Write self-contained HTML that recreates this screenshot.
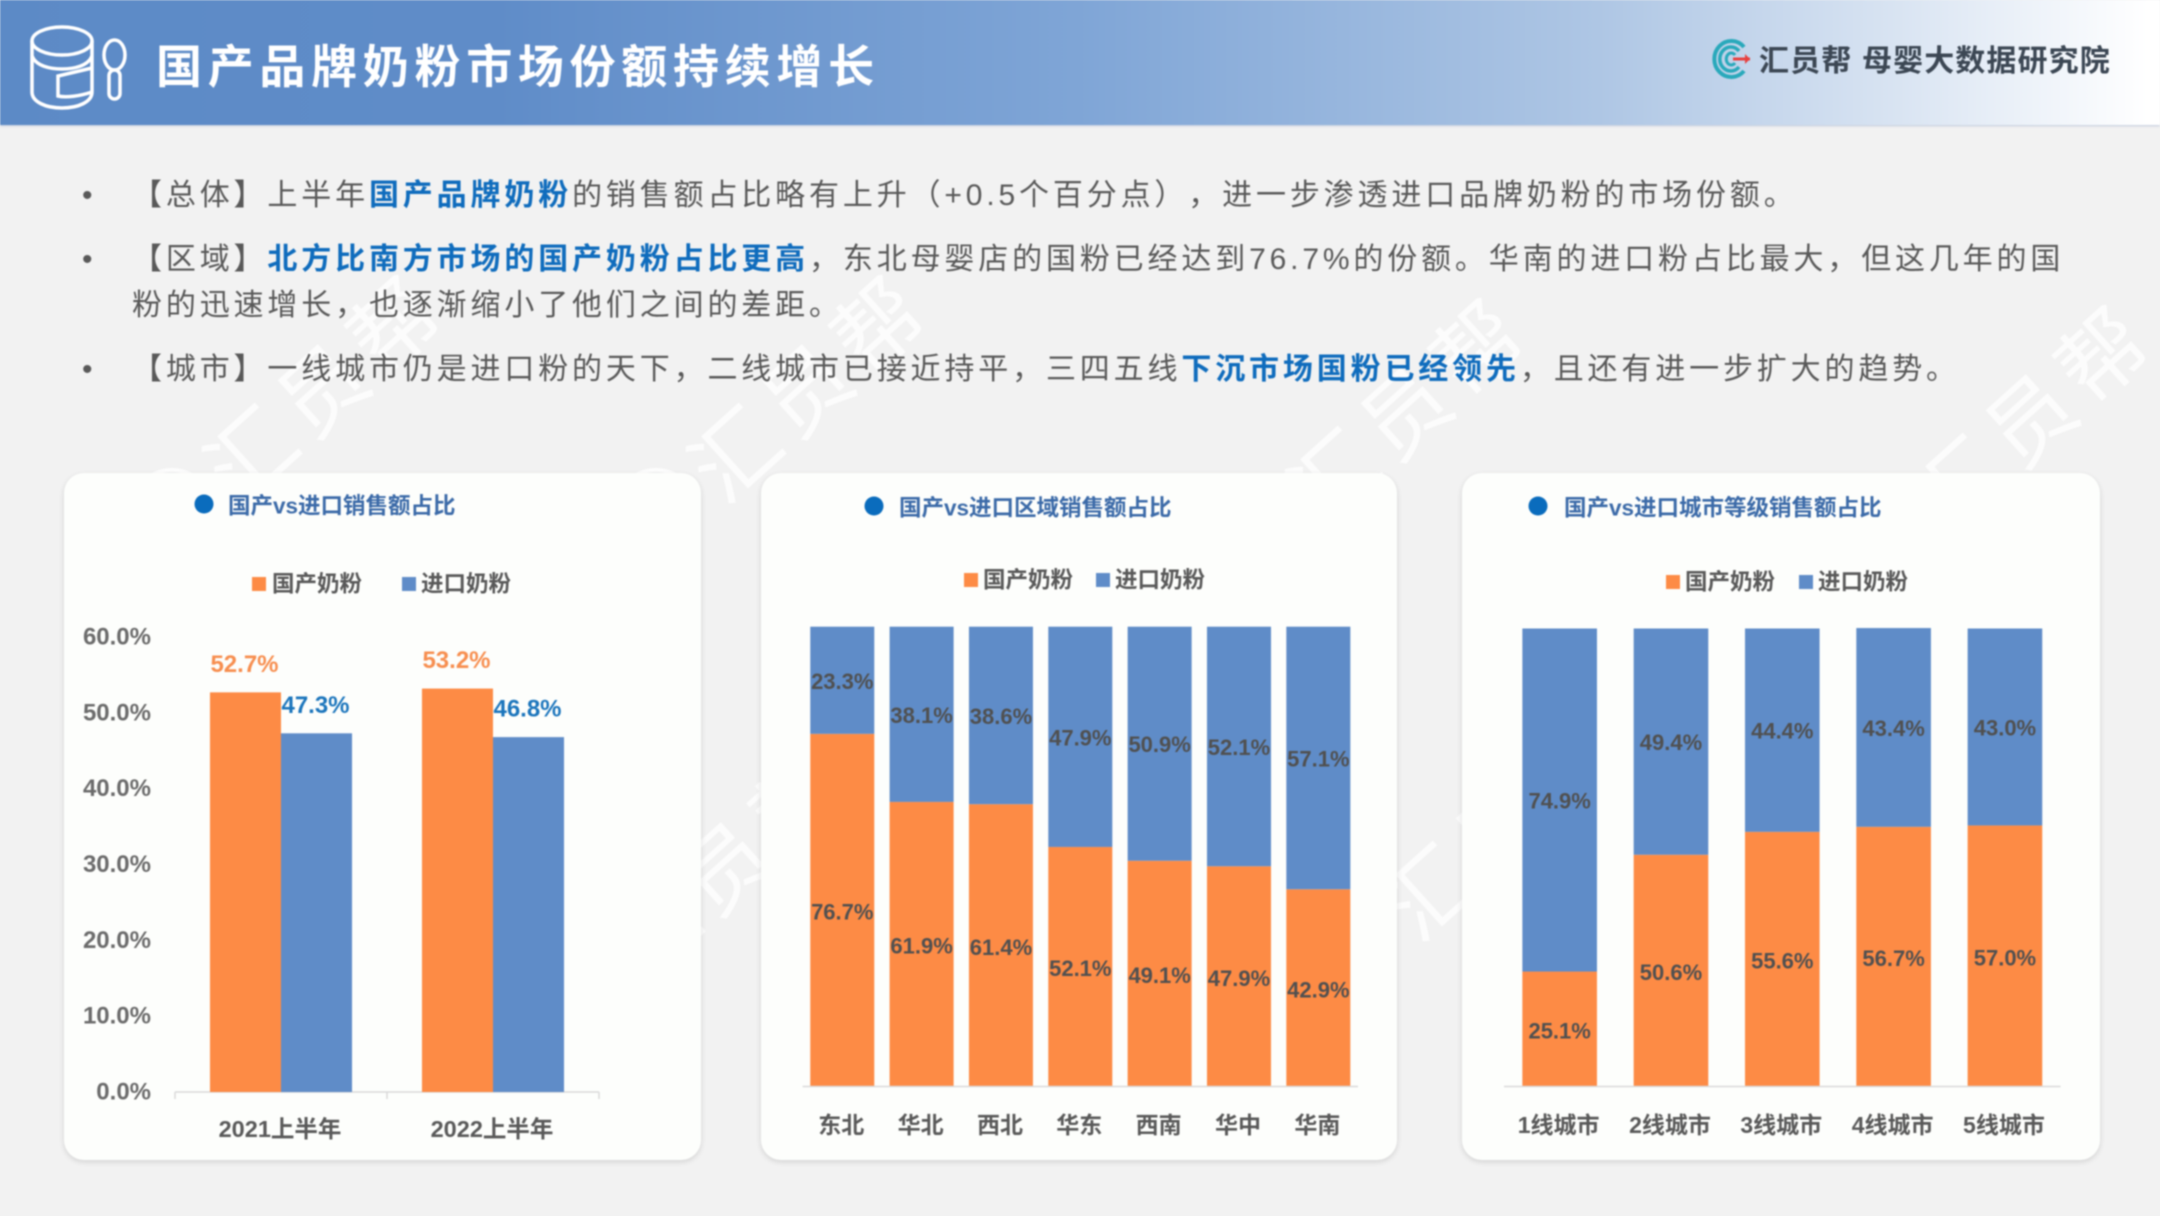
<!DOCTYPE html>
<html lang="zh-CN">
<head>
<meta charset="utf-8">
<title>国产品牌奶粉市场份额持续增长</title>
<style>
html,body{margin:0;padding:0;width:2160px;height:1216px;overflow:hidden;background:#f2f2f2;}
#page{position:relative;width:2160px;height:1216px;background:#f2f2f2;overflow:hidden;filter:blur(0.8px);font-family:"Liberation Sans","Noto Sans CJK SC",sans-serif;}
#header{position:absolute;left:0;top:0;width:2160px;height:125px;background:linear-gradient(90deg,#5c8ac6 0,#5f8cc8 500px,#7fa5d6 1080px,#aec6e4 1600px,#d9e4f2 1900px,#ffffff 2150px);box-shadow:0 1px 2px rgba(100,130,180,.35);}
#title{position:absolute;left:156px;top:34px;font-size:46px;line-height:66px;font-weight:700;color:#fff;letter-spacing:5.7px;white-space:nowrap;}
.brand{position:absolute;top:42px;font-size:30px;line-height:40px;font-weight:700;color:#3c4754;white-space:nowrap;letter-spacing:1.1px;}
.line{position:absolute;left:132px;font-size:30px;line-height:44px;color:#595959;letter-spacing:3.85px;white-space:nowrap;text-spacing-trim:space-all;}
.line b{color:#0f6cbd;font-weight:700;}
.bullet{position:absolute;left:82px;font-size:30px;line-height:44px;color:#595959;}
.card{position:absolute;top:473px;height:687px;background:#fdfefc;border-radius:20px;box-shadow:0 2px 6px rgba(0,0,0,.13);}
svg{position:absolute;left:0;top:0;}
</style>
</head>
<body>
<div id="page">
  <svg id="watermarks" width="2160" height="1216" viewBox="0 0 2160 1216"></svg>

  <div id="header"></div>
  <svg width="2160" height="125" viewBox="0 0 2160 125">
    <g fill="none" stroke="#fff" stroke-width="3.5">
      <ellipse cx="62" cy="41" rx="30" ry="14"/>
      <path d="M32 41V92C32 102 46 108 62 108C78 108 92 102 92 92V41"/>
      <path d="M32 56C36 66 50 69 62 69C74 69 88 66 92 56"/>
      <path d="M92 68L58 76V96C66 98 80 96 92 92"/>
    </g>
    <g fill="none" stroke="#fff" stroke-width="3.5">
      <ellipse cx="114.500" cy="55" rx="10.500" ry="15"/>
      <rect x="109" y="70" width="11" height="29" rx="5.500"/>
    </g>
    <g fill="none">
      <path d="M1744 47A17 18 0 1 0 1744 71" stroke="#29a9bb" stroke-width="4"/>
      <path d="M1739 51A11 12 0 1 0 1739 67" stroke="#29a9bb" stroke-width="3.5"/>
      <path d="M1735 55A5 6 0 1 0 1735 63" stroke="#29a9bb" stroke-width="3"/>
      <path d="M1733 59H1750" stroke="#e8403f" stroke-width="3"/>
      <path d="M1745 54L1750 59L1745 64Z" fill="#e8403f"/>
    </g>
  </svg>
  <div id="title">国产品牌奶粉市场份额持续增长</div>
  <div class="brand" style="left:1759px">汇员帮</div>
  <div class="brand" style="left:1862px">母婴大数据研究院</div>

  <div class="bullet" style="top:174px">•</div>
  <div class="line" style="top:174px">【总体】上半年<b>国产品牌奶粉</b>的销售额占比略有上升（+0.5个百分点），进一步渗透进口品牌奶粉的市场份额。</div>
  <div class="bullet" style="top:238px">•</div>
  <div class="line" style="top:238px">【区域】<b>北方比南方市场的国产奶粉占比更高</b>，东北母婴店的国粉已经达到76.7%的份额。华南的进口粉占比最大，但这几年的国</div>
  <div class="line" style="top:284px">粉的迅速增长，也逐渐缩小了他们之间的差距。</div>
  <div class="bullet" style="top:348px">•</div>
  <div class="line" style="top:348px">【城市】一线城市仍是进口粉的天下，二线城市已接近持平，三四五线<b>下沉市场国粉已经领先</b>，且还有进一步扩大的趋势。</div>

  <div class="card" style="left:64px;width:637px"></div>
  <div class="card" style="left:761px;width:636px"></div>
  <div class="card" style="left:1462px;width:638px"></div>

  <svg id="charts" width="2160" height="1216" viewBox="0 0 2160 1216"></svg>
</div>

<script>
// ---- chart data ----
const legendLabels = ['国产奶粉', '进口奶粉'];

const overallTitle = '国产vs进口销售额占比';
const overallCategories = ['2021上半年', '2022上半年'];
const overallDomestic = [52.7, 53.2];
const overallImport = [47.3, 46.8];
const overallTicks = [0, 10, 20, 30, 40, 50, 60];

const regionTitle = '国产vs进口区域销售额占比';
const regionCategories = ['东北', '华北', '西北', '华东', '西南', '华中', '华南'];
const regionDomestic = [76.7, 61.9, 61.4, 52.1, 49.1, 47.9, 42.9];
const regionImport = [23.3, 38.1, 38.6, 47.9, 50.9, 52.1, 57.1];

const cityTitle = '国产vs进口城市等级销售额占比';
const cityCategories = ['1线城市', '2线城市', '3线城市', '4线城市', '5线城市'];
const cityDomestic = [25.1, 50.6, 55.6, 56.7, 57.0];
const cityImport = [74.9, 49.4, 44.4, 43.4, 43.0];

// ---- helpers ----
const NS = 'http://www.w3.org/2000/svg';
const ORANGE = '#fd8b45';
const BLUE = '#5f8cc8';
const chartsRoot = document.getElementById('charts');

function mk(tag, attrs, parent) {
  const el = document.createElementNS(NS, tag);
  for (const k in attrs) el.setAttribute(k, attrs[k]);
  parent.appendChild(el);
  return el;
}
function txt(content, x, y, size, fill, anchor, parent) {
  const el = mk('text', {x: x, y: y, 'font-size': size, 'font-weight': 700, fill: fill, 'text-anchor': anchor, 'dominant-baseline': 'central',
    'font-family': '"Liberation Sans","Noto Sans CJK SC",sans-serif'}, parent);
  el.textContent = content;
  return el;
}
function pct(v) { return v.toFixed(1) + '%'; }

function drawHeading(g, title, dotX, titleX, y) {
  const dot = mk('ellipse', {cx: dotX, cy: y - 1, rx: 9.5, ry: 9.5, fill: '#0a6cbd'}, g);
  
  
  const t = txt(title, titleX, y + 1, 22.5, '#3b6aa8', 'start', g);
  
  
}
function drawLegend(g, y, orangeX, orangeTextX, blueX, blueTextX) {
  const s1 = mk('rect', {x: orangeX, y: y - 7, width: 14, height: 14, fill: ORANGE}, g);
  
  
  const t1 = txt(legendLabels[0], orangeTextX, y, 22.5, '#595959', 'start', g);
  
  
  const s2 = mk('rect', {x: blueX, y: y - 7, width: 14, height: 14, fill: BLUE}, g);
  
  
  const t2 = txt(legendLabels[1], blueTextX, y, 22.5, '#595959', 'start', g);
  
  
}

// ---- grouped bar chart ----
function drawOverall() {
  const g = mk('g', {}, chartsRoot);
  
  
  const left = 175, right = 599, base = 1092, top = 637;
  const maxV = overallTicks[overallTicks.length - 1];
  const y = v => base - v / maxV * (base - top);
  const band = (right - left) / overallCategories.length;
  const xc = i => left + band * (i + 0.5);
  const barW = band * 0.335;

  drawHeading(g, overallTitle, 204, 228, 505);
  drawLegend(g, 584, 252, 272, 402, 421);

  overallTicks.forEach(function (v) {
    const t = txt(pct(v), 151, y(v), 24, '#6b6b6b', 'end', g);
    
    
  });
  const axis = mk('path', {d: 'M' + left + ' ' + base + 'H' + right, stroke: '#d9d9d9', 'stroke-width': 1.5, fill: 'none'}, g);
  
  
  for (let i = 0; i <= overallCategories.length; i++) {
    const tick = mk('path', {d: 'M' + (left + band * i) + ' ' + base + 'v7', stroke: '#d9d9d9', 'stroke-width': 1.5, fill: 'none'}, g);
    
    
  }
  overallCategories.forEach(function (c, i) {
    const b1 = mk('rect', {x: xc(i) - barW, y: y(overallDomestic[i]), width: barW, height: base - y(overallDomestic[i]), fill: ORANGE}, g);
    
    
    const b2 = mk('rect', {x: xc(i), y: y(overallImport[i]), width: barW, height: base - y(overallImport[i]), fill: BLUE}, g);
    
    
    const l1 = txt(pct(overallDomestic[i]), xc(i) - barW / 2 - 1, y(overallDomestic[i]) - 28, 24, '#f78e4f', 'middle', g);
    
    
    const l2 = txt(pct(overallImport[i]), xc(i) + barW / 2 - 1, y(overallImport[i]) - 28, 24, '#1b75bc', 'middle', g);
    
    
    const cat = txt(c, xc(i) - 1, 1129, 23.5, '#595959', 'middle', g);
    
    
  });
}

// ---- stacked 100% bar charts ----
function drawStacked(name, title, categories, domestic, imported, o) {
  const g = mk('g', {}, chartsRoot);
  
  
  const y = v => o.base - v / 100 * (o.base - o.top);
  const band = (o.right - o.left) / categories.length;
  const xc = i => o.left + band * (i + 0.5);

  drawHeading(g, title, o.dotX, o.titleX, 507);
  drawLegend(g, o.legendY, o.lx[0], o.lx[1], o.lx[2], o.lx[3]);

  categories.forEach(function (c, i) {
    const d = domestic[i], m = imported[i];
    const b1 = mk('rect', {x: xc(i) - o.barW / 2, y: y(d), width: o.barW, height: o.base - y(d), fill: ORANGE}, g);
    
    
    const b2 = mk('rect', {x: xc(i) - o.barW / 2, y: y(d + m), width: o.barW, height: y(d) - y(d + m), fill: BLUE}, g);
    
    
    const l1 = txt(pct(d), xc(i), y(d / 2) + 2, 22, '#505050', 'middle', g);
    
    
    const l2 = txt(pct(m), xc(i), y(d + m / 2) + 1, 22, '#505050', 'middle', g);
    
    
    const cat = txt(c, xc(i) - 1, 1125, 23, '#595959', 'middle', g);
    
    
  });
  const axis = mk('path', {d: 'M' + o.left + ' ' + o.base + 'H' + o.right, stroke: '#d9d9d9', 'stroke-width': 1.5, fill: 'none'}, g);
  
  
}

drawOverall();
drawStacked('region-share-chart', regionTitle, regionCategories, regionDomestic, regionImport, {
  left: 802.6, right: 1358, top: 626.7, base: 1086.5, barW: 64, dotX: 874, titleX: 899, legendY: 580, lx: [964, 983, 1096, 1115]
});
drawStacked('city-share-chart', cityTitle, cityCategories, cityDomestic, cityImport, {
  left: 1504, right: 2060.6, top: 628.5, base: 1086.5, barW: 74.6, dotX: 1538, titleX: 1564, legendY: 582, lx: [1666, 1685, 1799, 1818]
});

// ---- decorative watermark ----
const wmRoot = document.getElementById('watermarks');
const wmCenters = [[322, 382], [806, 382], [1405, 405], [2030, 412], [1500, 820], [725, 860]];
wmCenters.forEach(function (p) {
  const t = mk('text', {x: p[0], y: p[1], 'font-size': 86, fill: '#ffffff', 'text-anchor': 'middle', 'dominant-baseline': 'central', 'letter-spacing': 10,
    transform: 'rotate(-42 ' + p[0] + ' ' + p[1] + ')', 'font-family': '"Noto Sans CJK SC",sans-serif', opacity: 0.8}, wmRoot);
  t.textContent = '汇员帮';
  
  
  [14, 28, 42].forEach(function (r) {
    const c = mk('circle', {cx: p[0] - 150, cy: p[1] + 130, r: r, fill: 'none', stroke: '#ffffff', 'stroke-width': 4, opacity: 0.8}, wmRoot);
    
    
  });
});
</script>
</body>
</html>
